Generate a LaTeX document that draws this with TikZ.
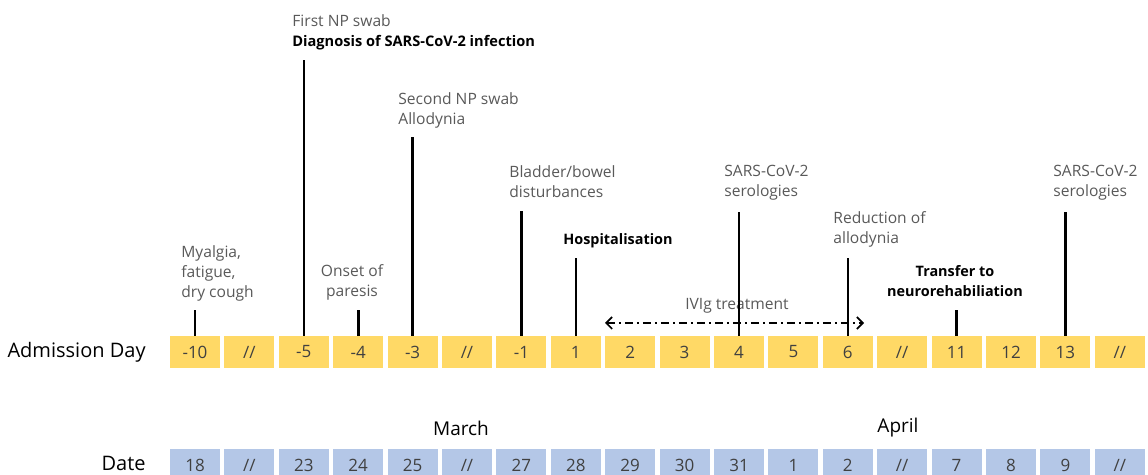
\documentclass[tikz,border=0pt]{standalone}
\usepackage{fontspec}
\setmainfont{Open Sans}
\usetikzlibrary{arrows.meta}

\definecolor{dayfill}{HTML}{FFD966}
\definecolor{datefill}{HTML}{B4C7E7}
\definecolor{labelgray}{HTML}{595959}
\definecolor{celltext}{HTML}{404040}

\tikzset{
  daycell/.style={fill=dayfill, minimum width=25pt, minimum height=16pt, inner sep=0pt,
    text=celltext, font=\fontsize{8.5}{10}\selectfont},
  datecell/.style={daycell, fill=datefill},
  evlabel/.style={font=\fontsize{7.8}{10}\selectfont, text=labelgray, align=left,
    inner sep=0pt, anchor=north west},
  evkey/.style={evlabel, text=black, font=\fontsize{7.2}{10}\selectfont\bfseries},
  rowlabel/.style={font=\fontsize{10}{12}\selectfont, text=black, anchor=east, inner sep=0pt},
  month/.style={font=\fontsize{9.5}{11}\selectfont, text=black, inner sep=0pt},
  tick/.style={line width=1.3pt},
  ivarrow/.style={line width=0.8pt, dash pattern=on 4pt off 2pt on 1pt off 2pt,
    {Straight Barb[length=3pt,width=6pt]}-{Straight Barb[length=3pt,width=6pt]}},
}

\begin{document}
\begin{tikzpicture}[x=0.5pt, y=-0.5pt]
  \useasboundingbox (0,0) rectangle (1148,475);
  \clip (0,0) rectangle (1148,475);

  % rows of cells
  \foreach \d [count=\i] in {-10,//,-5,-4,-3,//,-1,1,2,3,4,5,6,//,11,12,13,//}
    \node[daycell] (d\i) at ({195+(\i-1)*54.4},352) {\d};
  \foreach \t [count=\i] in {18,//,23,24,25,//,27,28,29,30,31,1,2,//,7,8,9,//}
    \node[datecell] (t\i) at ({195+(\i-1)*54.4},465) {\t};

  \node[rowlabel] (rowday) at (146,352) {Admission Day};
  \node[rowlabel] (rowdate) at (146,463) {Date};
  \node[month] (march) at (461,428) {March};
  \node[month] (april) at (898,428) {April};

  % events
  \node[evlabel] (ev1) at (181,245) {Myalgia,\\fatigue,\\dry cough};
  \coordinate (e1) at (d1 |- 0,310);
  \draw[tick] (d1) -- (e1);

  \node[evlabel] (ev3) at (292,14) {First NP swab\\{\color{black}\fontsize{7.3}{10}\selectfont\bfseries Diagnosis of SARS-CoV-2 infection}};
  \coordinate (e3) at (d3 |- 0,60);
  \draw[tick] (d3) -- (e3);

  \node[evlabel, align=center, anchor=north] (ev4) at (352,264) {Onset of\\paresis};
  \coordinate (e4) at (d4 |- 0,310);
  \draw[tick] (d4) -- (e4);

  \node[evlabel] (ev5) at (398,92) {Second NP swab\\Allodynia};
  \coordinate (e5) at (d5 |- 0,137);
  \draw[tick] (d5) -- (e5);

  \node[evlabel] (ev7) at (509,165) {Bladder/bowel\\disturbances};
  \coordinate (e7) at (d7 |- 0,211);
  \draw[tick] (d7) -- (e7);

  \node[evkey] (ev8) at (563,233) {Hospitalisation};
  \coordinate (e8) at (d8 |- 0,258);
  \draw[tick] (d8) -- (e8);

  % IVIg
  \coordinate (ivl) at (605,323);
  \coordinate (ivr) at (864,323);
  \draw[ivarrow] (ivl) -- (ivr);
  \node[evlabel, anchor=center] (ivig) at (737,306) {IVIg treatment};

  \node[evlabel] (ev11) at (724,165) {SARS-CoV-2\\serologies};
  \coordinate (e11) at (d11 |- 0,212);
  \draw[tick] (d11) -- (e11);

  \node[evlabel] (ev13) at (833,211) {Reduction of\\allodynia};
  \coordinate (e13) at (d13 |- 0,258);
  \draw[tick] (d13) -- (e13);

  \node[evkey, align=center, anchor=north] (ev15) at (955,265) {Transfer to\\neurorehabiliation};
  \coordinate (e15) at (d15 |- 0,310);
  \draw[tick] (d15) -- (e15);

  \node[evlabel] (ev17) at (1053,165) {SARS-CoV-2\\serologies};
  \coordinate (e17) at (d17 |- 0,212);
  \draw[tick] (d17) -- (e17);
\end{tikzpicture}
\end{document}
